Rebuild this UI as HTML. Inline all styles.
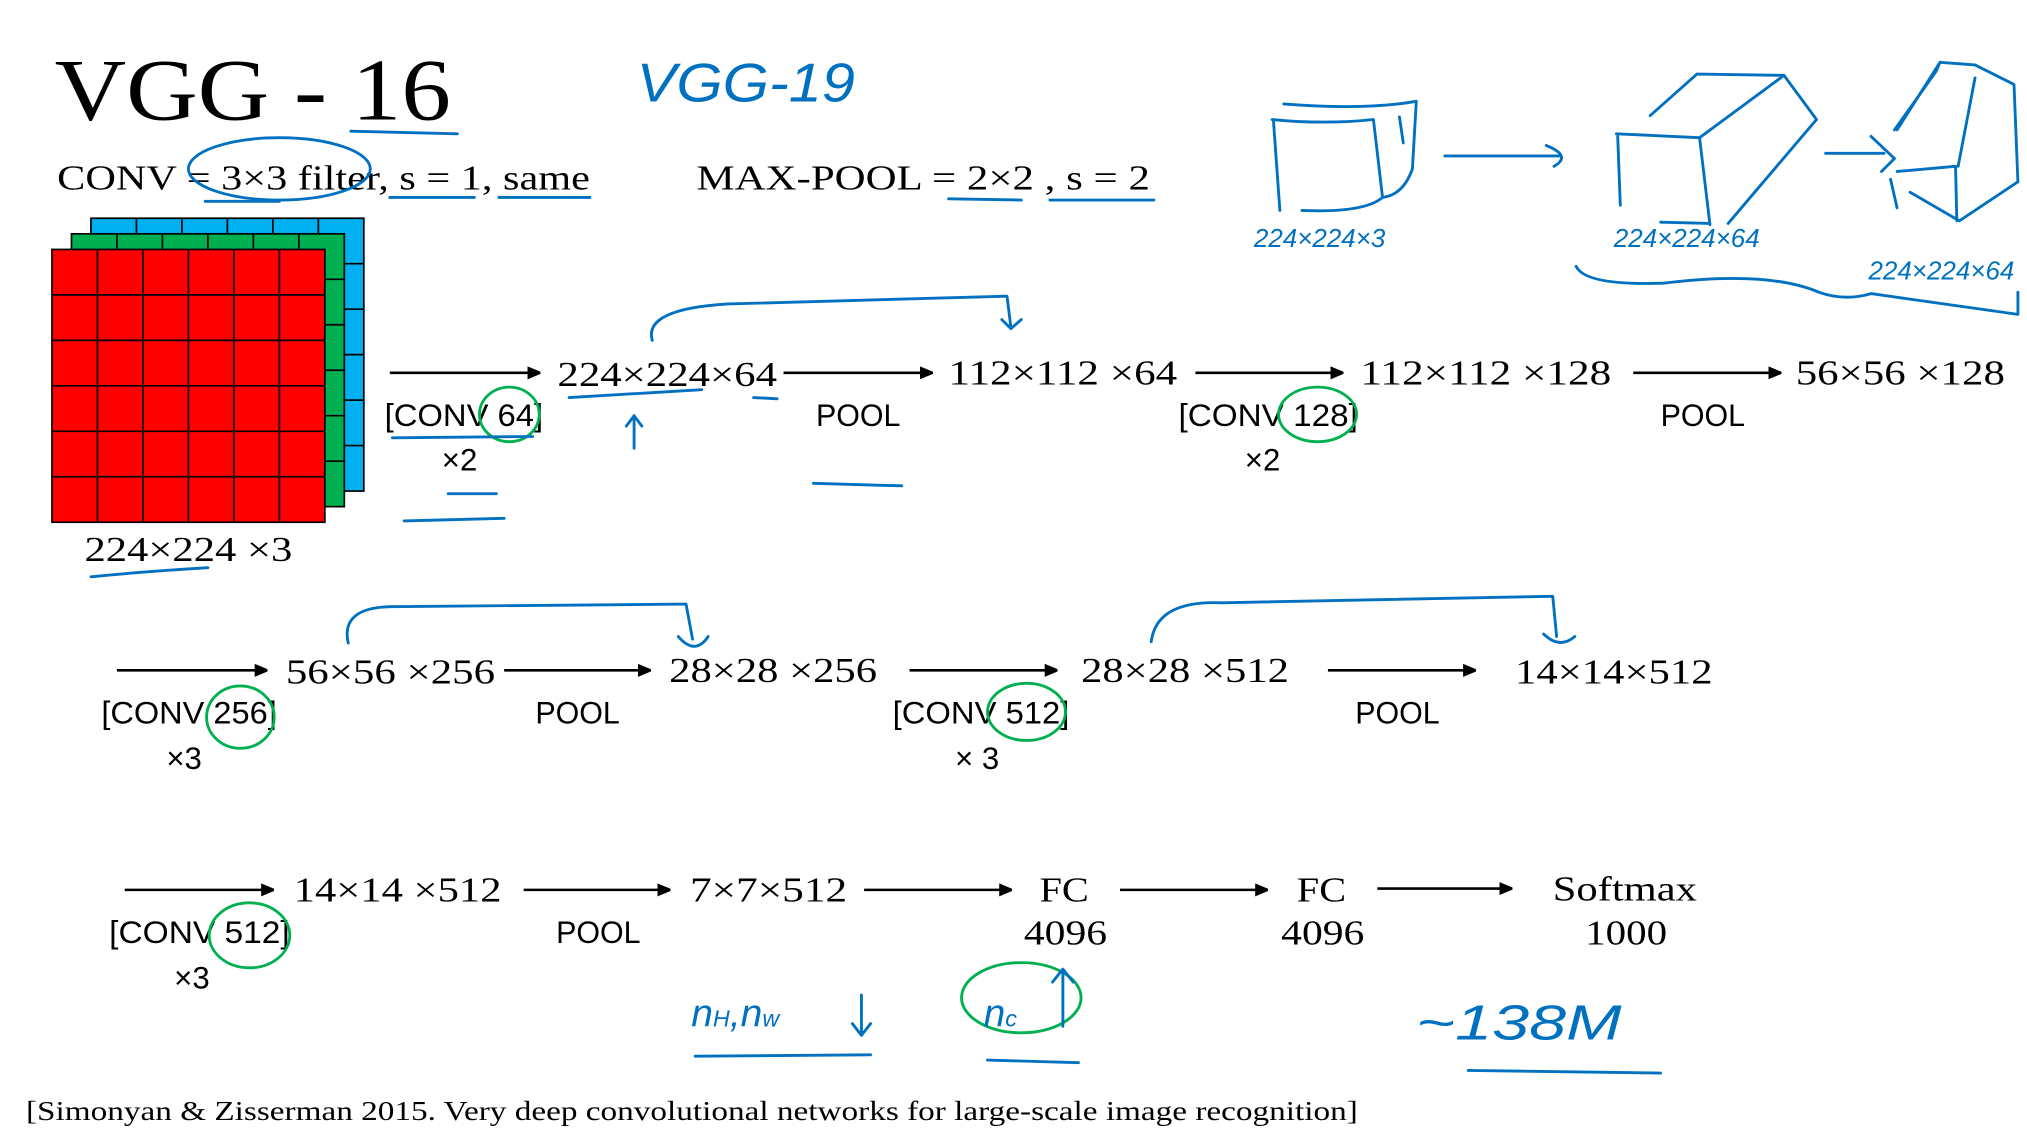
<!DOCTYPE html>
<html><head><meta charset="utf-8"><style>
html,body{margin:0;padding:0;background:#fff;}
svg{display:block;}
.s{font-family:"Liberation Serif",serif;fill:#000;}
.a{font-family:"Liberation Sans",sans-serif;fill:#000;}
.b{fill:none;stroke:#0070c0;stroke-width:2.2;stroke-linecap:round;stroke-linejoin:round;}
.g{fill:none;stroke:#00b050;stroke-width:2.2;}
.ar{stroke:#000;stroke-width:2;}
.hw{font-family:"Liberation Sans",sans-serif;fill:#0070c0;font-style:italic;}
</style></head><body>
<svg width="2027" height="1138" viewBox="0 0 1560 876" preserveAspectRatio="none" xmlns="http://www.w3.org/2000/svg">
<defs><marker id="m" markerWidth="10" markerHeight="10" refX="9" refY="5" orient="auto" markerUnits="userSpaceOnUse"><path d="M0,0 L12,5 L0,10z" fill="#000"/></marker></defs>
<text class="s" x="42" y="92" font-size="68" textLength="305" lengthAdjust="spacingAndGlyphs">VGG - 16</text>
<path class="b" d="M270,101 L352,103"/>
<text class="s" x="44" y="146" font-size="27" textLength="410" lengthAdjust="spacingAndGlyphs">CONV = 3×3 filter, s = 1, same</text>
<text class="s" x="536" y="146" font-size="27" textLength="349" lengthAdjust="spacingAndGlyphs">MAX-POOL = 2×2 , s = 2</text>
<path class="b" d="M300,152 L365,152 M384,152 L454,152 M730,153 L786,154 M808,154 L888,154 M158,155 L215,155"/>
<ellipse class="b" cx="215" cy="130" rx="70" ry="24"/>
<g stroke="#000" stroke-width="1.3">
<rect x="70" y="168" width="210" height="210" fill="#00b0f0"/>
<rect x="55" y="180" width="210" height="210" fill="#00b050"/>
<rect x="40" y="192" width="210" height="210" fill="#ff0000"/>
<path d="M75,192V402M110,192V402M145,192V402M180,192V402M215,192V402M40,227H250M40,262H250M40,297H250M40,332H250M40,367H250" fill="none"/>
<path d="M90,180V192M125,180V192M160,180V192M195,180V192M230,180V192M250,215H265M250,250H265M250,285H265M250,320H265M250,355H265" fill="none"/>
<path d="M105,168V180M140,168V180M175,168V180M210,168V180M245,168V180M265,203H280M265,238H280M265,273H280M265,308H280M265,343H280" fill="none"/>
</g>
<text class="s" x="65" y="432" font-size="27" textLength="160" lengthAdjust="spacingAndGlyphs">224×224 ×3</text>
<path class="b" d="M70,444 Q110,440 160,437"/>
<g class="ar"><line x1="300" y1="287" x2="415" y2="287" marker-end="url(#m)"/><line x1="603" y1="287" x2="717" y2="287" marker-end="url(#m)"/><line x1="920" y1="287" x2="1033" y2="287" marker-end="url(#m)"/><line x1="1257" y1="287" x2="1370" y2="287" marker-end="url(#m)"/></g>
<text class="s" x="429" y="297" font-size="27" textLength="169" lengthAdjust="spacingAndGlyphs">224×224×64</text>
<text class="s" x="730" y="296" font-size="27" textLength="176" lengthAdjust="spacingAndGlyphs">112×112 ×64</text>
<text class="s" x="1047" y="296" font-size="27" textLength="193" lengthAdjust="spacingAndGlyphs">112×112 ×128</text>
<text class="s" x="1382" y="296" font-size="27" textLength="161" lengthAdjust="spacingAndGlyphs">56×56 ×128</text>
<text class="a" x="296" y="328" font-size="24" textLength="122" lengthAdjust="spacingAndGlyphs">[CONV 64]</text><text class="a" x="340" y="362" font-size="24">×2</text>
<text class="a" x="628" y="328" font-size="24" textLength="65" lengthAdjust="spacingAndGlyphs">POOL</text>
<text class="a" x="907" y="328" font-size="24" textLength="138" lengthAdjust="spacingAndGlyphs">[CONV 128]</text><text class="a" x="958" y="362" font-size="24">×2</text>
<text class="a" x="1278" y="328" font-size="24" textLength="65" lengthAdjust="spacingAndGlyphs">POOL</text>
<ellipse class="g" cx="392" cy="319" rx="23" ry="21"/><ellipse class="g" cx="1014" cy="319" rx="30" ry="21"/>
<path class="b" d="M302,337 L410,336 M345,380 L382,380 M311,401 L388,399 M438,306 Q490,303 540,300 M580,306 L598,307 M626,372 L694,374 M488,345 L488,320 M482,328 L488,320 L494,328"/>
<path class="b" d="M502,262 Q495,238 560,234 L775,228 L778,252 M771,246 L778,253 L786,246"/>
<g class="ar"><line x1="90" y1="516" x2="205" y2="516" marker-end="url(#m)"/><line x1="388" y1="516" x2="500" y2="516" marker-end="url(#m)"/><line x1="700" y1="516" x2="813" y2="516" marker-end="url(#m)"/><line x1="1022" y1="516" x2="1135" y2="516" marker-end="url(#m)"/></g>
<text class="s" x="220" y="526" font-size="27" textLength="161" lengthAdjust="spacingAndGlyphs">56×56 ×256</text>
<text class="s" x="515" y="525" font-size="27" textLength="160" lengthAdjust="spacingAndGlyphs">28×28 ×256</text>
<text class="s" x="832" y="525" font-size="27" textLength="160" lengthAdjust="spacingAndGlyphs">28×28 ×512</text>
<text class="s" x="1166" y="526" font-size="27" textLength="152" lengthAdjust="spacingAndGlyphs">14×14×512</text>
<text class="a" x="78" y="557" font-size="24" textLength="135" lengthAdjust="spacingAndGlyphs">[CONV 256]</text><text class="a" x="128" y="592" font-size="24">×3</text>
<text class="a" x="412" y="557" font-size="24" textLength="65" lengthAdjust="spacingAndGlyphs">POOL</text>
<text class="a" x="687" y="557" font-size="24" textLength="136" lengthAdjust="spacingAndGlyphs">[CONV 512]</text><text class="a" x="735" y="592" font-size="24">× 3</text>
<text class="a" x="1043" y="557" font-size="24" textLength="65" lengthAdjust="spacingAndGlyphs">POOL</text>
<ellipse class="g" cx="185" cy="552" rx="26" ry="24"/><ellipse class="g" cx="790" cy="548" rx="30" ry="22"/>
<path class="b" d="M268,495 Q262,468 300,467 L528,465 L533,492 M522,490 Q535,505 545,490"/>
<path class="b" d="M886,494 Q890,462 940,464 L1195,459 L1198,490 M1188,488 Q1200,500 1212,490"/>
<g class="ar"><line x1="96" y1="685" x2="210" y2="685" marker-end="url(#m)"/><line x1="403" y1="685" x2="515" y2="685" marker-end="url(#m)"/><line x1="665" y1="685" x2="778" y2="685" marker-end="url(#m)"/><line x1="862" y1="685" x2="975" y2="685" marker-end="url(#m)"/><line x1="1060" y1="684" x2="1163" y2="684" marker-end="url(#m)"/></g>
<text class="s" x="226" y="694" font-size="27" textLength="160" lengthAdjust="spacingAndGlyphs">14×14 ×512</text>
<text class="s" x="531" y="694" font-size="27" textLength="121" lengthAdjust="spacingAndGlyphs">7×7×512</text>
<text class="s" x="800" y="694" font-size="27" textLength="38" lengthAdjust="spacingAndGlyphs">FC</text><text class="s" x="788" y="727" font-size="27" textLength="64" lengthAdjust="spacingAndGlyphs">4096</text>
<text class="s" x="998" y="694" font-size="27" textLength="38" lengthAdjust="spacingAndGlyphs">FC</text><text class="s" x="986" y="727" font-size="27" textLength="64" lengthAdjust="spacingAndGlyphs">4096</text>
<text class="s" x="1195" y="693" font-size="27" textLength="111" lengthAdjust="spacingAndGlyphs">Softmax</text><text class="s" x="1220" y="727" font-size="27" textLength="63" lengthAdjust="spacingAndGlyphs">1000</text>
<text class="a" x="84" y="726" font-size="24" textLength="139" lengthAdjust="spacingAndGlyphs">[CONV 512]</text><text class="a" x="134" y="761" font-size="24">×3</text>
<text class="a" x="428" y="726" font-size="24" textLength="65" lengthAdjust="spacingAndGlyphs">POOL</text>
<ellipse class="g" cx="192" cy="720" rx="31" ry="25"/>
<text class="hw" x="532" y="790" font-size="30">n<tspan font-size="18">H</tspan>,n<tspan font-size="18">w</tspan></text>
<path class="b" d="M663,766 L663,796 M656,788 L663,797 L670,788 M535,813 L670,812 M760,816 L830,818"/>
<ellipse class="g" cx="786" cy="768" rx="46" ry="27"/>
<text class="hw" x="757" y="790" font-size="30">n<tspan font-size="18">c</tspan></text>
<path class="b" d="M818,790 L818,747 M810,756 L818,746 L826,756"/>
<text class="hw" x="1090" y="800" font-size="38" textLength="158" lengthAdjust="spacingAndGlyphs">~138M</text>
<path class="b" d="M1130,824 L1278,826"/>
<text class="hw" x="490" y="78" font-size="42" font-style="normal" textLength="168" lengthAdjust="spacingAndGlyphs">VGG-19</text>
<path class="b" d="M980,92 L985,162 M979,92 Q1020,96 1057,92 L1064,152 Q1050,164 1002,162 M988,80 Q1050,85 1090,78 L1087,130 Q1080,150 1064,152 M1077,90 L1080,110"/>
<path class="b" d="M1112,120 L1200,120 M1190,112 Q1210,120 1196,128"/>
<text class="hw" x="965" y="190" font-size="20">224×224×3</text>
<path class="b" d="M1245,105 L1247,158 M1244,103 L1308,106 L1316,173 M1278,171 L1316,172 M1270,89 L1306,57 L1373,58 L1398,92 L1330,172 M1373,58 L1308,106"/>
<path class="b" d="M1405,118 L1450,118 M1440,105 L1458,122 L1448,132"/>
<text class="hw" x="1242" y="190" font-size="20">224×224×64</text>
<path class="b" d="M1458,100 L1490,55 L1493,48 L1520,50 L1550,65 L1553,140 L1508,170 L1470,148 M1493,48 L1460,100 M1460,132 L1505,128 L1506,170 M1455,138 L1460,160 M1520,60 L1507,128"/>
<text class="hw" x="1438" y="215" font-size="20">224×224×64</text>
<path class="b" d="M1213,205 Q1220,220 1280,218 Q1360,208 1400,225 Q1420,232 1440,226 L1553,242 L1553,225"/>
<text class="s" x="20" y="862" font-size="21" textLength="1025" lengthAdjust="spacingAndGlyphs">[Simonyan &amp; Zisserman 2015. Very deep convolutional networks for large-scale image recognition]</text>
</svg>
</body></html>
